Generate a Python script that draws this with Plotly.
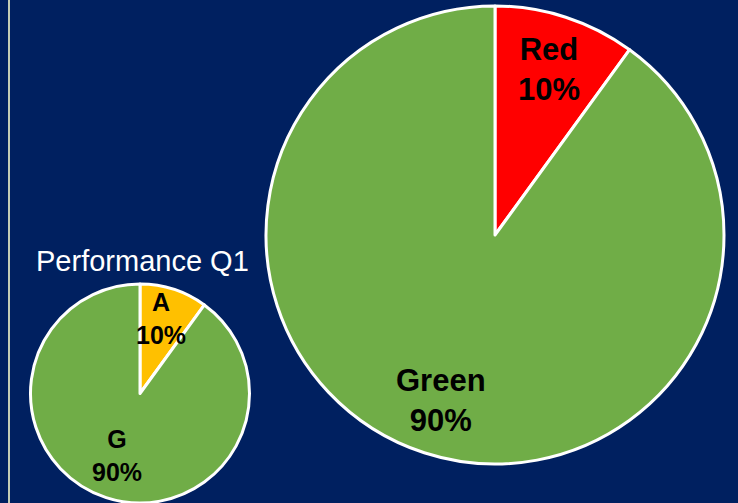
import math
import plotly.graph_objects as go

W, H = 738, 503

# Data
title_small = "Performance Q1"
small_labels = ["A", "G"]
small_values = [10, 90]
big_labels = ["Red", "Green"]
big_values = [10, 90]

# Styles
small_colors = ["#FFC000", "#70AD47"]
big_colors = ["#FF0000", "#70AD47"]
bg = "#002060"
small_label_r = [0.72, 0.6]
big_label_r = [0.76, 0.76]

small_dom = dict(x=[30 / W, 250 / W], y=[0.0, 219 / H])
big_dom = dict(x=[266 / W, 724 / W], y=[39 / H, 497 / H])

fig = go.Figure()
for labels, values, colors, dom in [
    (small_labels, small_values, small_colors, small_dom),
    (big_labels, big_values, big_colors, big_dom),
]:
    fig.add_trace(go.Pie(
        labels=labels, values=values, sort=False, direction="clockwise",
        rotation=0, domain=dom, textinfo="none", hoverinfo="label+percent",
        marker=dict(colors=colors, line=dict(color="white", width=3)),
        showlegend=False,
    ))


def add_labels(labels, values, dom, radii, size, dx=0):
    x0, x1 = dom["x"][0] * W, dom["x"][1] * W
    y0, y1 = dom["y"][0] * H, dom["y"][1] * H
    cx, cy = (x0 + x1) / 2, (y0 + y1) / 2
    r = min(x1 - x0, y1 - y0) / 2
    total = sum(values)
    cum = 0
    for lab, v, rf in zip(labels, values, radii):
        mid = (cum + v / 2) / total * 2 * math.pi
        cum += v
        px = cx + rf * r * math.sin(mid) + dx
        py = cy + rf * r * math.cos(mid)
        pct = round(v / total * 100)
        fig.add_annotation(
            x=px / W, y=py / H, xref="paper", yref="paper",
            text=f"<b>{lab}<br>{pct}%</b>", showarrow=False,
            font=dict(family="Liberation Sans, Arial", size=size, color="black"),
            xanchor="center", yanchor="middle",
        )


add_labels(small_labels, small_values, small_dom, small_label_r, 25, dx=-3)
add_labels(big_labels, big_values, big_dom, big_label_r, 31)

fig.add_annotation(
    x=142 / W, y=(H - 261) / H, xref="paper", yref="paper",
    text=title_small, showarrow=False,
    font=dict(family="Liberation Sans, Arial", size=29, color="white"),
    xanchor="center", yanchor="middle",
)

fig.add_shape(type="line", xref="paper", yref="paper",
              x0=9 / W, x1=9 / W, y0=0, y1=1,
              line=dict(color="#C4CCB4", width=2))

fig.update_layout(
    width=W, height=H, paper_bgcolor=bg, plot_bgcolor=bg,
    margin=dict(l=0, r=0, t=0, b=0),
)

fig.write_html(
    "out.html",
    config={"displayModeBar": False},
    post_script="document.body.style.margin='0';document.body.style.overflow='hidden';",
)
